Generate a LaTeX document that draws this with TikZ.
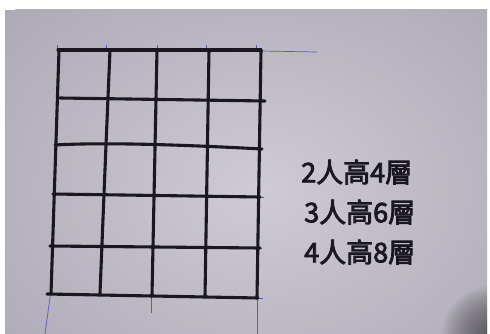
\documentclass[tikz,border=0pt]{standalone}
\usepackage{fontspec}
\newfontfamily\cjkhand[FakeBold=3]{Noto Sans CJK TC}
\definecolor{paper}{RGB}{196,192,203}
\definecolor{paperlight}{RGB}{206,203,212}
\definecolor{paperdark}{RGB}{174,170,182}
\definecolor{ink}{RGB}{26,24,30}
\definecolor{pencil}{RGB}{95,85,205}
\definecolor{shadow}{RGB}{60,58,64}
\tikzset{
  gridline/.style={draw=ink, line width=3.1pt, line cap=round, line join=round},
  guide/.style={draw=pencil, line width=0.7pt},
  note/.style={font=\cjkhand\fontsize{27}{27}\selectfont, text=ink, anchor=west, inner sep=0pt},
}
\begin{document}
\begin{tikzpicture}[x=1pt,y=-1pt]
\useasboundingbox (0,0) rectangle (490,334);
\fill[white] (0,0) rectangle (490,334);
% paper
\begin{scope}
\clip (5,10) rectangle (487,334);
\fill[paperdark] (5,10) rectangle (487,334);
\shade[inner color=paperlight, outer color=paperdark] (260,190) ellipse (340 and 260);
\foreach \r in {50,48,...,4} \fill[shadow, opacity=0.045] (492,336) circle (\r);
\end{scope}
% pencil guide lines
\draw[guide] (261,51) -- (317,52);
\draw[guide] (51,290) -- (45,334);
\draw[guide] (151,295) -- (151,313);
\draw[guide] (257,296) -- (257,334);
\foreach \x in {57,106,157,206,256} \draw[guide] (\x,45) -- (\x,50);
\draw[guide] (258,197) -- (264,197);
\draw[guide] (258,248) -- (262,248);
\draw[guide] (258,298) -- (263,298);
% horizontal strokes
\draw[gridline] (58,50) -- (261,50);
\draw[gridline] (60,98) -- (265,101);
\draw[gridline] (55,145) .. controls (90,143) and (150,143) .. (262,149);
\draw[gridline] (53,194) -- (260,197);
\draw[gridline] (50,246) -- (260,248);
\draw[gridline] (47,294) -- (258,298);
% vertical strokes
\draw[gridline] (59,50) -- (51,294);
\draw[gridline] (110,50) -- (106,145) -- (100,293);
\draw[gridline] (157,50) -- (152,296);
\draw[gridline] (209,50) -- (205,297);
\draw[gridline] (261,50) -- (257,298);
% notes
\node[note] (n1) at (301,172) {2人高4層};
\node[note] (n2) at (304,212) {3人高6層};
\node[note] (n3) at (304,252) {4人高8層};
\end{tikzpicture}
\end{document}
